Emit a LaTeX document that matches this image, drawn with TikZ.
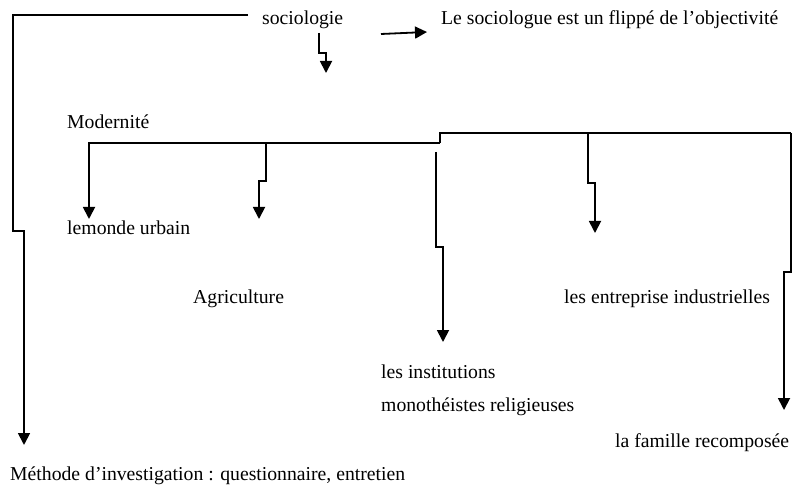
\documentclass[tikz,border=0pt]{standalone}
\usepackage{fontspec}
\setmainfont{Liberation Serif}
\usetikzlibrary{arrows.meta}
\begin{document}
\begin{tikzpicture}[x=1pt,y=-1pt,
  lbl/.style={anchor=base west, inner sep=0pt, font=\fontsize{19.7}{24}\selectfont},
  conn/.style={line width=1.8pt, line join=miter},
  arr/.style={conn, -{Triangle[width=12pt,length=12pt]}}]
\useasboundingbox (0,0) rectangle (794,486);
% texts
\node[lbl] (soc) at (262,25) {sociologie};
\node[lbl] (flip) at (441,25) {Le sociologue est un flippé de l’objectivité};
\node[lbl] (mod) at (67,129) {Modernité};
\node[lbl] (urb) at (67,234) {lemonde urbain};
\node[lbl] (agr) at (193,303) {Agriculture};
\node[lbl] (ent) at (564,303) {les entreprise industrielles};
\node[lbl] (inst) at (381,378) {les institutions};
\node[lbl] (mono) at (381,411) {monothéistes religieuses};
\node[lbl] (fam) at (615,447) {la famille recomposée};
\node[lbl] (meth) at (10,480) {Méthode d’investigation : questionnaire, entretien};
% coordinates
\coordinate (s0) at (248,15);
\coordinate (m0) at (24,445);
\coordinate (d0) at (319,33);
\coordinate (d1) at (326,73);
\coordinate (r0) at (381,34);
\coordinate (r1) at (427,32);
\coordinate (t0) at (89,143);
\coordinate (t1) at (440,143);
\coordinate (t2) at (791,133);
\coordinate (a0) at (89,219);
\coordinate (b0) at (266,143);
\coordinate (b1) at (259,219);
\coordinate (c0) at (436,152);
\coordinate (c1) at (443,342);
\coordinate (e0) at (588,133);
\coordinate (e1) at (595,233);
\coordinate (f1) at (784,410);
% connectors
\draw[arr] (s0) -- (13,15) -- (13,231) -- (24,231) -- (m0);
\draw[arr] (d0) -- (319,53) -- (326,53) -- (d1);
\draw[arr] (r0) -- (r1);
\draw[arr] (t1) -- (t0) -- (a0);
\draw[conn] (t1) -- (440,133) -- (t2);
\draw[arr] (t2) -- (791,272) -- (784,272) -- (f1);
\draw[arr] (b0) -- (266,181) -- (259,181) -- (b1);
\draw[arr] (c0) -- (436,247) -- (443,247) -- (c1);
\draw[arr] (e0) -- (588,183) -- (595,183) -- (e1);
\end{tikzpicture}
\end{document}
